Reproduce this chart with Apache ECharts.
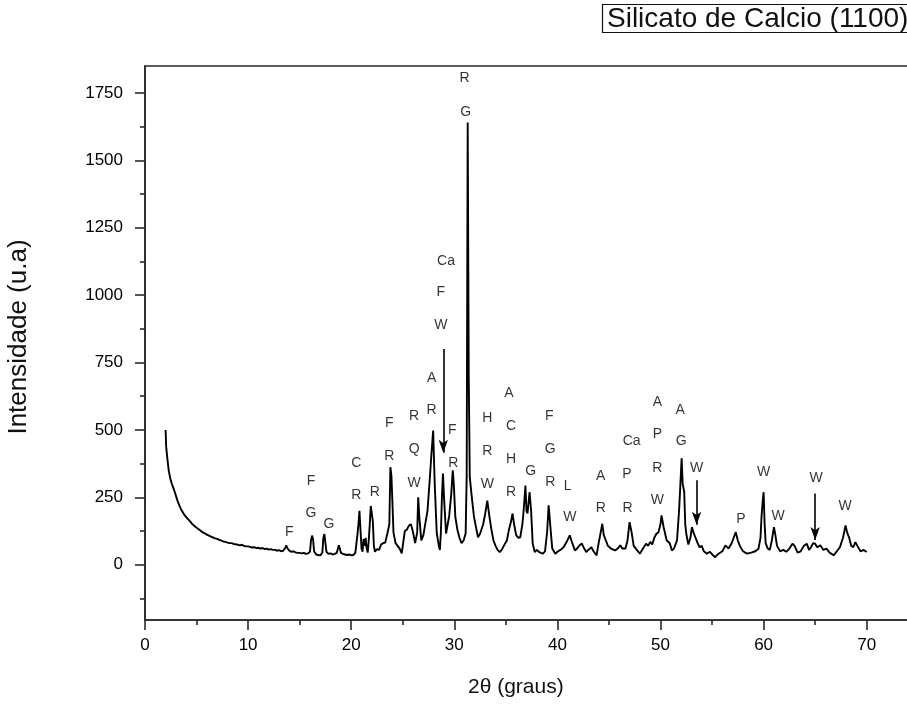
<!DOCTYPE html>
<html>
<head>
<meta charset="utf-8">
<script src="https://cdn.jsdelivr.net/npm/echarts@6/dist/echarts.min.js"></script>
<style>
html,body{margin:0;padding:0;background:#fff;overflow:hidden;width:907px;height:704px;}
#main{width:960px;height:704px;}
</style>
</head>
<body>
<div id="main"></div>
<script>
// ---- data ----
const curve = [
[2.0,500],[2.05,440],[2.15,400],[2.3,350],[2.45,320],[2.6,300],[2.75,285],[2.9,268],[3.05,250],[3.2,232],[3.35,218],[3.5,205],[3.65,198],[3.8,186],[3.95,180],[4.1,172],[4.25,165],[4.4,160],[4.55,152],[4.7,148],[4.85,142],[5.0,138],[5.2,132],[5.4,126],[5.6,120],[5.8,116],[6.0,112],[6.2,108],[6.4,104],[6.6,101],[6.8,98],[7.0,96],[7.2,92],[7.4,90],[7.6,86],[7.8,85],[8.0,82],[8.2,80],[8.4,80],[8.6,77],[8.8,76],[9.0,74],[9.2,72],[9.4,74],[9.6,70],[9.8,68],[10.0,68],[10.2,66],[10.4,64],[10.6,65],[10.8,62],[11.0,63],[11.2,60],[11.4,62],[11.6,58],[11.8,60],[12.0,56],[12.2,58],[12.4,55],[12.6,55],[12.8,52],[13.0,54],[13.2,50],[13.4,52],[13.6,62],[13.7,72],[13.8,62],[14.0,52],[14.2,48],[14.4,50],[14.6,46],[14.8,44],[15.0,44],[15.2,42],[15.4,44],[15.6,40],[15.8,42],[16.0,48],[16.1,90],[16.2,108],[16.3,95],[16.4,50],[16.6,38],[16.8,36],[17.0,35],[17.2,45],[17.3,100],[17.4,114],[17.5,80],[17.6,48],[17.8,40],[18.0,42],[18.2,38],[18.4,40],[18.6,44],[18.8,72],[18.9,60],[19.0,44],[19.2,40],[19.4,38],[19.6,36],[19.8,38],[20.0,35],[20.2,36],[20.4,44],[20.6,110],[20.7,150],[20.8,200],[20.9,130],[21.0,60],[21.1,48],[21.2,95],[21.3,70],[21.4,100],[21.5,60],[21.6,45],[21.7,90],[21.8,150],[21.9,218],[22.0,190],[22.1,160],[22.2,70],[22.3,48],[22.5,58],[22.7,55],[22.9,75],[23.1,80],[23.3,82],[23.5,115],[23.7,150],[23.8,362],[23.9,330],[24.0,230],[24.1,120],[24.3,80],[24.5,70],[24.7,60],[24.9,42],[25.05,40],[25.2,125],[25.4,130],[25.6,145],[25.8,150],[25.9,155],[26.0,120],[26.2,80],[26.4,120],[26.5,250],[26.6,180],[26.8,90],[27.0,110],[27.2,155],[27.4,200],[27.6,306],[27.8,420],[27.95,498],[28.1,300],[28.3,116],[28.5,70],[28.6,55],[28.7,120],[28.8,250],[28.9,338],[29.0,250],[29.2,116],[29.5,180],[29.7,260],[29.85,350],[29.95,300],[30.1,177],[30.3,130],[30.5,100],[30.7,80],[30.9,90],[31.1,116],[31.2,325],[31.3,1640],[31.4,700],[31.5,325],[31.7,250],[31.9,180],[32.1,140],[32.3,102],[32.5,115],[32.8,150],[33.0,190],[33.2,238],[33.4,180],[33.6,130],[33.8,90],[34.0,70],[34.2,55],[34.4,47],[34.6,55],[34.8,70],[35.1,90],[35.3,130],[35.5,160],[35.65,190],[35.8,150],[36.0,110],[36.2,100],[36.4,102],[36.6,150],[36.7,189],[36.8,240],[36.9,294],[37.0,200],[37.1,190],[37.3,269],[37.45,200],[37.6,80],[37.8,47],[38.0,55],[38.2,48],[38.4,44],[38.6,41],[38.8,50],[39.0,120],[39.15,220],[39.3,150],[39.5,60],[39.8,41],[40.0,48],[40.3,55],[40.6,65],[40.9,85],[41.2,109],[41.4,85],[41.7,53],[41.9,60],[42.1,70],[42.36,79],[42.6,60],[42.8,47],[43.0,55],[43.3,65],[43.5,50],[43.8,35],[44.0,80],[44.2,120],[44.35,152],[44.5,110],[44.7,90],[44.9,70],[45.2,60],[45.6,53],[45.9,62],[46.1,72],[46.3,60],[46.6,60],[46.8,90],[47.0,158],[47.2,120],[47.4,70],[47.7,55],[48.0,41],[48.3,60],[48.6,78],[48.8,70],[49.0,85],[49.2,75],[49.4,100],[49.6,115],[49.8,120],[50.0,150],[50.1,183],[50.3,140],[50.6,90],[50.9,80],[51.1,53],[51.3,60],[51.6,90],[51.8,200],[51.9,276],[52.05,395],[52.15,300],[52.3,270],[52.4,150],[52.5,115],[52.7,75],[52.9,100],[53.05,139],[53.2,120],[53.4,100],[53.6,80],[53.8,65],[54.0,70],[54.2,50],[54.5,41],[54.8,48],[55.1,35],[55.3,28],[55.6,40],[56.0,50],[56.3,72],[56.6,60],[56.9,80],[57.1,100],[57.3,121],[57.5,90],[57.7,70],[58.0,50],[58.4,41],[58.8,45],[59.2,50],[59.5,59],[59.7,100],[59.8,180],[59.9,230],[60.0,269],[60.1,150],[60.2,80],[60.4,60],[60.6,55],[60.8,90],[61.0,139],[61.1,120],[61.3,70],[61.6,50],[61.9,55],[62.2,48],[62.5,60],[62.8,78],[63.0,70],[63.3,45],[63.6,50],[63.9,70],[64.2,78],[64.4,55],[64.6,65],[64.8,80],[65.0,78],[65.2,65],[65.5,72],[65.8,55],[66.1,60],[66.4,45],[66.8,35],[67.1,50],[67.4,65],[67.7,100],[67.95,146],[68.1,120],[68.3,100],[68.5,70],[68.7,65],[68.9,84],[69.1,70],[69.4,50],[69.7,55],[70.0,47]
];
// phase labels: [2θ, intensity, text]
const phaseLabels = [
[14.0,120,'F'],
[16.1,309,'F'],[16.1,190,'G'],[17.85,149,'G'],
[20.5,376,'C'],[20.5,257,'R'],[22.3,268,'R'],
[23.7,524,'F'],[23.7,402,'R'],
[26.1,550,'R'],[26.1,428,'Q'],[26.1,302,'W'],
[27.8,691,'A'],[27.8,572,'R'],
[29.2,1128,'Ca'],[28.7,1013,'F'],[28.7,887,'W'],
[29.8,498,'F'],[29.9,376,'R'],
[31.0,1806,'R'],[31.1,1677,'G'],
[33.2,542,'H'],[33.2,420,'R'],[33.2,298,'W'],
[35.3,635,'A'],[35.5,513,'C'],[35.5,391,'H'],[35.5,268,'R'],
[37.4,346,'G'],
[39.2,550,'F'],[39.3,428,'G'],[39.3,306,'R'],[41.0,291,'L'],
[41.2,176,'W'],
[44.2,328,'A'],[44.2,209,'R'],
[47.2,458,'Ca'],[46.75,335,'P'],[46.8,209,'R'],
[49.7,602,'A'],[49.7,483,'P'],[49.7,357,'R'],[49.7,239,'W'],
[51.9,572,'A'],[52.0,457,'G'],
[53.5,357,'W'],
[57.8,168,'P'],
[60.0,342,'W'],[61.4,179,'W'],
[65.1,320,'W'],
[67.9,216,'W']
];
// arrows: [2θ, from intensity, to intensity]
const arrows = [[28.93,800,415],[53.5,313,148],[65.0,264,92]];
const xMajorTicks = [0,10,20,30,40,50,60,70];
const xMinorTicks = [5,15,25,35,45,55,65];
const yMajorTicks = [0,250,500,750,1000,1250,1500,1750];
const yMinorTicks = [-125,125,375,625,875,1125,1375,1625];
const titleText = 'Silicato de Calcio (1100)';
const xTitle = '2θ (graus)';
const yTitle = 'Intensidade (u.a)';

// ---- chart ----
const chart = echarts.init(document.getElementById('main'), null, {renderer:'canvas'});
const FONT = 'Liberation Sans, Arial, sans-serif';
const axisColor = '#2a2a2a';
const X_MIN = 0, X_MAX = 76, Y_MIN = -205, Y_MAX = 1850;

function xAx(ticks, len, showLine, showLabel) {
  return {
    type:'value', min:X_MIN, max:X_MAX, position:'bottom',
    splitLine:{show:false},
    axisLine:{show:showLine, onZero:false, lineStyle:{color:axisColor, width:1.6}},
    axisTick:{show:true, customValues:ticks, length:len, inside:false, lineStyle:{color:axisColor, width:1.6}},
    axisLabel:{show:showLabel, customValues:ticks, margin:17, color:'#000', fontSize:17, fontFamily:FONT,
      formatter:v => String(v)}
  };
}
function yAx(ticks, len, showLine, showLabel) {
  return {
    type:'value', min:Y_MIN, max:Y_MAX, position:'left',
    splitLine:{show:false},
    axisLine:{show:showLine, onZero:false, lineStyle:{color:axisColor, width:1.6}},
    axisTick:{show:true, customValues:ticks, length:len, inside:false, lineStyle:{color:axisColor, width:1.6}},
    axisLabel:{show:showLabel, customValues:ticks, margin:22, color:'#000', fontSize:17, fontFamily:FONT,
      formatter:v => String(v)}
  };
}

const option = {
  animation:false,
  backgroundColor:'#fff',
  title:{
    text:titleText, left:602, top:4,
    borderColor:'#111', borderWidth:1.2, padding:[1,6,0,5],
    textStyle:{fontSize:28, fontWeight:'normal', color:'#111', fontFamily:FONT}
  },
  grid:{left:145, top:66, width:(X_MAX-X_MIN)*10.31, height:554, show:true, borderColor:axisColor, borderWidth:1.6,
    containLabel:false, outerBoundsMode:'none'},
  xAxis:[ xAx(xMajorTicks,10,true,true), xAx(xMinorTicks,5,false,false) ],
  yAxis:[
    Object.assign(yAx(yMajorTicks,10,true,true), {name:yTitle, nameLocation:'middle', nameGap:113, nameRotate:90,
      nameTextStyle:{fontSize:26, color:'#111', fontFamily:FONT, padding:[0,0,0,12]}}),
    yAx(yMinorTicks,5,false,false)
  ],
  graphic:[{
    type:'text', left:468, top:677,
    style:{text:xTitle, fontSize:21, fill:'#111', fontFamily:FONT}
  }],
  series:[
    {
      type:'line', data:curve, xAxisIndex:0, yAxisIndex:0,
      showSymbol:false, symbol:'none',
      lineStyle:{color:'#000', width:1.9},
      markLine:{
        silent:true, symbol:['none','arrow'], symbolSize:[7,13], animation:false,
        lineStyle:{color:'#000', width:1.6, type:'solid'},
        label:{show:false},
        data: arrows.map(a => [{coord:[a[0],a[1]]},{coord:[a[0],a[2]]}])
      }
    },
    {
      type:'scatter', data:phaseLabels, xAxisIndex:0, yAxisIndex:0,
      symbolSize:1, itemStyle:{color:'transparent'}, silent:true,
      label:{show:true, position:'inside', formatter:p => p.value[2],
        color:'#000', fontSize:14, fontFamily:FONT}
    }
  ]
};
chart.setOption(option);
</script>
</body>
</html>
